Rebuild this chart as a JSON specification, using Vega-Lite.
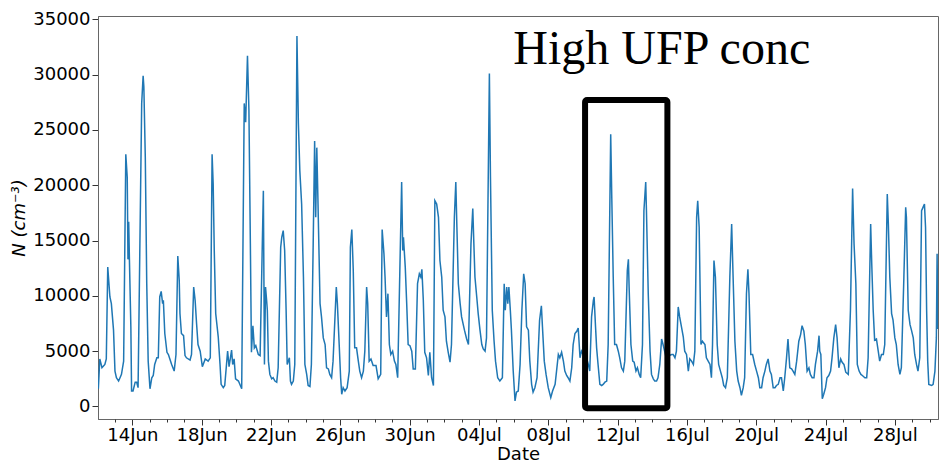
{
  "$schema": "https://vega.github.io/schema/vega-lite/v6.json",
  "width": 840,
  "height": 403,
  "autosize": {"type": "none"},
  "padding": {"left": 98, "top": 16, "right": 1, "bottom": 45},
  "config": {
    "font": "DejaVu Sans",
    "view": {"stroke": "#666", "strokeWidth": 1},
    "axis": {"grid": false, "domainColor": "#666", "tickColor": "#333", "labelColor": "#000", "titleColor": "#000", "labelFontSize": 18, "titleFontSize": 18, "titleFontWeight": "normal", "labelFont": "DejaVu Sans", "titleFont": "DejaVu Sans"}
  },
  "datasets": {
    "ufp": [
      {"t": "2019-06-12T01:00", "N": 1600}, {"t": "2019-06-12T03:00", "N": 4300}, {"t": "2019-06-12T06:00", "N": 3500}, {"t": "2019-06-12T10:00", "N": 3800}, {"t": "2019-06-12T12:00", "N": 4300}, {"t": "2019-06-12T14:00", "N": 12600}, {"t": "2019-06-12T17:00", "N": 9900}, {"t": "2019-06-12T19:00", "N": 9300}, {"t": "2019-06-12T22:00", "N": 6900},
      {"t": "2019-06-13T00:00", "N": 3200}, {"t": "2019-06-13T02:00", "N": 2600}, {"t": "2019-06-13T05:00", "N": 2300}, {"t": "2019-06-13T07:00", "N": 2600}, {"t": "2019-06-13T09:00", "N": 2900}, {"t": "2019-06-13T12:00", "N": 4100}, {"t": "2019-06-13T15:00", "N": 22800}, {"t": "2019-06-13T17:00", "N": 20700}, {"t": "2019-06-13T18:00", "N": 13300}, {"t": "2019-06-13T19:00", "N": 16700}, {"t": "2019-06-13T20:00", "N": 13300}, {"t": "2019-06-13T22:00", "N": 7200}, {"t": "2019-06-13T23:00", "N": 1400},
      {"t": "2019-06-14T01:00", "N": 1400}, {"t": "2019-06-14T04:00", "N": 2200}, {"t": "2019-06-14T06:00", "N": 2200}, {"t": "2019-06-14T08:00", "N": 1700}, {"t": "2019-06-14T13:00", "N": 27400}, {"t": "2019-06-14T15:00", "N": 29900}, {"t": "2019-06-14T16:00", "N": 28900}, {"t": "2019-06-14T18:00", "N": 22500}, {"t": "2019-06-14T20:00", "N": 11100}, {"t": "2019-06-14T22:00", "N": 4100},
      {"t": "2019-06-15T00:30", "N": 1600}, {"t": "2019-06-15T03:00", "N": 2600}, {"t": "2019-06-15T05:00", "N": 2800}, {"t": "2019-06-15T07:00", "N": 3800}, {"t": "2019-06-15T10:00", "N": 4400}, {"t": "2019-06-15T12:00", "N": 4400}, {"t": "2019-06-15T14:00", "N": 9900}, {"t": "2019-06-15T16:00", "N": 10400}, {"t": "2019-06-15T18:00", "N": 9300}, {"t": "2019-06-15T19:00", "N": 9600}, {"t": "2019-06-15T21:00", "N": 6600},
      {"t": "2019-06-16T00:00", "N": 4900}, {"t": "2019-06-16T02:00", "N": 4700}, {"t": "2019-06-16T04:00", "N": 4300}, {"t": "2019-06-16T06:30", "N": 3800}, {"t": "2019-06-16T10:00", "N": 3200}, {"t": "2019-06-16T12:30", "N": 4700}, {"t": "2019-06-16T15:00", "N": 13600}, {"t": "2019-06-16T17:00", "N": 11400}, {"t": "2019-06-16T18:00", "N": 8400}, {"t": "2019-06-16T20:00", "N": 6600}, {"t": "2019-06-16T23:00", "N": 6400},
      {"t": "2019-06-17T01:00", "N": 4600}, {"t": "2019-06-17T03:00", "N": 4400}, {"t": "2019-06-17T08:00", "N": 4200}, {"t": "2019-06-17T10:00", "N": 4700}, {"t": "2019-06-17T13:00", "N": 10800}, {"t": "2019-06-17T15:00", "N": 9600}, {"t": "2019-06-17T17:00", "N": 7500}, {"t": "2019-06-17T19:00", "N": 5600}, {"t": "2019-06-17T22:00", "N": 5000},
      {"t": "2019-06-18T01:00", "N": 3600}, {"t": "2019-06-18T05:00", "N": 4300}, {"t": "2019-06-18T09:00", "N": 4100}, {"t": "2019-06-18T12:00", "N": 4400}, {"t": "2019-06-18T14:30", "N": 22800}, {"t": "2019-06-18T16:00", "N": 20100}, {"t": "2019-06-18T17:30", "N": 14100}, {"t": "2019-06-18T19:30", "N": 8400}, {"t": "2019-06-18T21:00", "N": 7500}, {"t": "2019-06-18T23:00", "N": 6300},
      {"t": "2019-06-19T01:30", "N": 3800}, {"t": "2019-06-19T03:00", "N": 2000}, {"t": "2019-06-19T06:00", "N": 1700}, {"t": "2019-06-19T08:00", "N": 1900}, {"t": "2019-06-19T12:00", "N": 5000}, {"t": "2019-06-19T14:00", "N": 3600}, {"t": "2019-06-19T17:30", "N": 5100}, {"t": "2019-06-19T19:00", "N": 3800}, {"t": "2019-06-19T21:00", "N": 4300}, {"t": "2019-06-19T23:00", "N": 2500},
      {"t": "2019-06-20T03:00", "N": 2300}, {"t": "2019-06-20T07:30", "N": 1600}, {"t": "2019-06-20T11:00", "N": 27400}, {"t": "2019-06-20T13:00", "N": 25700}, {"t": "2019-06-20T15:30", "N": 31700}, {"t": "2019-06-20T17:30", "N": 26800}, {"t": "2019-06-20T19:30", "N": 14700}, {"t": "2019-06-20T21:00", "N": 4900}, {"t": "2019-06-20T23:00", "N": 7300},
      {"t": "2019-06-21T01:00", "N": 5300}, {"t": "2019-06-21T03:00", "N": 5500}, {"t": "2019-06-21T06:30", "N": 4700}, {"t": "2019-06-21T09:00", "N": 4600}, {"t": "2019-06-21T13:30", "N": 19500}, {"t": "2019-06-21T15:00", "N": 3800}, {"t": "2019-06-21T16:30", "N": 10800}, {"t": "2019-06-21T18:00", "N": 9600}, {"t": "2019-06-21T19:00", "N": 8700}, {"t": "2019-06-21T20:30", "N": 4100}, {"t": "2019-06-21T22:30", "N": 2900},
      {"t": "2019-06-22T01:00", "N": 2500}, {"t": "2019-06-22T03:00", "N": 2600}, {"t": "2019-06-22T05:30", "N": 2300}, {"t": "2019-06-22T08:00", "N": 2200}, {"t": "2019-06-22T10:00", "N": 3500}, {"t": "2019-06-22T13:30", "N": 14400}, {"t": "2019-06-22T15:00", "N": 15300}, {"t": "2019-06-22T17:00", "N": 15900}, {"t": "2019-06-22T19:00", "N": 14100}, {"t": "2019-06-22T21:00", "N": 8700}, {"t": "2019-06-22T22:30", "N": 3800},
      {"t": "2019-06-23T00:00", "N": 4100}, {"t": "2019-06-23T01:30", "N": 4400}, {"t": "2019-06-23T03:00", "N": 2300}, {"t": "2019-06-23T04:30", "N": 2000}, {"t": "2019-06-23T07:00", "N": 2300}, {"t": "2019-06-23T09:00", "N": 3800}, {"t": "2019-06-23T12:00", "N": 33500}, {"t": "2019-06-23T14:00", "N": 25600}, {"t": "2019-06-23T16:00", "N": 21300}, {"t": "2019-06-23T18:30", "N": 18300}, {"t": "2019-06-23T21:00", "N": 11700}, {"t": "2019-06-23T23:00", "N": 3800},
      {"t": "2019-06-24T01:30", "N": 2900}, {"t": "2019-06-24T03:30", "N": 1900}, {"t": "2019-06-24T06:00", "N": 1800}, {"t": "2019-06-24T08:00", "N": 3800}, {"t": "2019-06-24T10:30", "N": 14700}, {"t": "2019-06-24T12:30", "N": 24000}, {"t": "2019-06-24T14:00", "N": 17100}, {"t": "2019-06-24T15:30", "N": 23400}, {"t": "2019-06-24T17:00", "N": 18900}, {"t": "2019-06-24T20:00", "N": 9300}, {"t": "2019-06-24T22:00", "N": 8100},
      {"t": "2019-06-25T00:30", "N": 6200}, {"t": "2019-06-25T03:00", "N": 5600}, {"t": "2019-06-25T05:00", "N": 3500}, {"t": "2019-06-25T07:30", "N": 3400}, {"t": "2019-06-25T09:30", "N": 2900}, {"t": "2019-06-25T12:00", "N": 2600}, {"t": "2019-06-25T14:00", "N": 4100}, {"t": "2019-06-25T18:30", "N": 10800}, {"t": "2019-06-25T20:00", "N": 9300}, {"t": "2019-06-25T22:30", "N": 5600},
      {"t": "2019-06-26T00:30", "N": 2600}, {"t": "2019-06-26T02:00", "N": 1100}, {"t": "2019-06-26T04:00", "N": 1700}, {"t": "2019-06-26T06:30", "N": 1400}, {"t": "2019-06-26T09:30", "N": 1700}, {"t": "2019-06-26T12:30", "N": 3200}, {"t": "2019-06-26T14:00", "N": 14400}, {"t": "2019-06-26T16:00", "N": 16000}, {"t": "2019-06-26T18:00", "N": 12300}, {"t": "2019-06-26T20:00", "N": 5300}, {"t": "2019-06-26T22:30", "N": 5300},
      {"t": "2019-06-27T01:00", "N": 4100}, {"t": "2019-06-27T03:00", "N": 3200}, {"t": "2019-06-27T05:30", "N": 2600}, {"t": "2019-06-27T08:00", "N": 3200}, {"t": "2019-06-27T10:00", "N": 5000}, {"t": "2019-06-27T12:30", "N": 10800}, {"t": "2019-06-27T14:00", "N": 9300}, {"t": "2019-06-27T16:00", "N": 4100}, {"t": "2019-06-27T18:30", "N": 4300}, {"t": "2019-06-27T21:30", "N": 3700},
      {"t": "2019-06-28T01:30", "N": 3700}, {"t": "2019-06-28T04:30", "N": 2500}, {"t": "2019-06-28T08:00", "N": 2900}, {"t": "2019-06-28T10:00", "N": 16000}, {"t": "2019-06-28T12:30", "N": 13800}, {"t": "2019-06-28T14:00", "N": 11700}, {"t": "2019-06-28T16:00", "N": 8100}, {"t": "2019-06-28T18:00", "N": 10200}, {"t": "2019-06-28T20:00", "N": 5600}, {"t": "2019-06-28T22:00", "N": 4700},
      {"t": "2019-06-29T00:30", "N": 5000}, {"t": "2019-06-29T03:00", "N": 4100}, {"t": "2019-06-29T05:00", "N": 3800}, {"t": "2019-06-29T07:30", "N": 2600}, {"t": "2019-06-29T10:30", "N": 12300}, {"t": "2019-06-29T13:00", "N": 20300}, {"t": "2019-06-29T14:30", "N": 14100}, {"t": "2019-06-29T15:30", "N": 15300}, {"t": "2019-06-29T18:00", "N": 12600}, {"t": "2019-06-29T20:00", "N": 9300}, {"t": "2019-06-29T22:00", "N": 5600},
      {"t": "2019-06-30T00:30", "N": 5500}, {"t": "2019-06-30T03:00", "N": 5000}, {"t": "2019-06-30T05:00", "N": 3400}, {"t": "2019-06-30T08:00", "N": 3400}, {"t": "2019-06-30T11:00", "N": 11100}, {"t": "2019-06-30T13:30", "N": 12000}, {"t": "2019-06-30T15:30", "N": 11700}, {"t": "2019-06-30T17:00", "N": 12400}, {"t": "2019-06-30T19:00", "N": 9600}, {"t": "2019-06-30T21:00", "N": 4900}, {"t": "2019-06-30T23:30", "N": 4400},
      {"t": "2019-07-01T02:00", "N": 2800}, {"t": "2019-07-01T04:00", "N": 4900}, {"t": "2019-07-01T06:30", "N": 2600}, {"t": "2019-07-01T09:00", "N": 1900}, {"t": "2019-07-01T11:00", "N": 18600}, {"t": "2019-07-01T13:30", "N": 18300}, {"t": "2019-07-01T16:00", "N": 17100}, {"t": "2019-07-01T18:00", "N": 13200}, {"t": "2019-07-01T20:30", "N": 11700}, {"t": "2019-07-01T22:30", "N": 8700},
      {"t": "2019-07-02T01:00", "N": 8100}, {"t": "2019-07-02T03:00", "N": 5900}, {"t": "2019-07-02T05:30", "N": 4900}, {"t": "2019-07-02T08:00", "N": 4000}, {"t": "2019-07-02T10:00", "N": 5600}, {"t": "2019-07-02T14:00", "N": 17100}, {"t": "2019-07-02T16:00", "N": 20300}, {"t": "2019-07-02T17:30", "N": 16200}, {"t": "2019-07-02T19:30", "N": 11100}, {"t": "2019-07-02T22:00", "N": 9300},
      {"t": "2019-07-03T00:00", "N": 8100}, {"t": "2019-07-03T04:00", "N": 6900}, {"t": "2019-07-03T07:00", "N": 6100}, {"t": "2019-07-03T09:30", "N": 5600}, {"t": "2019-07-03T13:00", "N": 14700}, {"t": "2019-07-03T15:30", "N": 17900}, {"t": "2019-07-03T17:00", "N": 14700}, {"t": "2019-07-03T18:30", "N": 11700}, {"t": "2019-07-03T21:00", "N": 9900}, {"t": "2019-07-03T23:00", "N": 8400},
      {"t": "2019-07-04T01:30", "N": 6900}, {"t": "2019-07-04T04:00", "N": 5600}, {"t": "2019-07-04T06:00", "N": 5200}, {"t": "2019-07-04T08:30", "N": 5000}, {"t": "2019-07-04T10:30", "N": 6200}, {"t": "2019-07-04T14:30", "N": 30100}, {"t": "2019-07-04T16:00", "N": 20700}, {"t": "2019-07-04T18:30", "N": 8700}, {"t": "2019-07-04T21:00", "N": 5900}, {"t": "2019-07-04T23:00", "N": 4100},
      {"t": "2019-07-05T02:00", "N": 2600}, {"t": "2019-07-05T05:00", "N": 2300}, {"t": "2019-07-05T08:30", "N": 2600}, {"t": "2019-07-05T11:00", "N": 11100}, {"t": "2019-07-05T12:30", "N": 8700}, {"t": "2019-07-05T14:30", "N": 10800}, {"t": "2019-07-05T16:00", "N": 9300}, {"t": "2019-07-05T17:30", "N": 10800}, {"t": "2019-07-05T19:30", "N": 8700}, {"t": "2019-07-05T21:00", "N": 6900}, {"t": "2019-07-05T23:30", "N": 3200},
      {"t": "2019-07-06T02:00", "N": 500}, {"t": "2019-07-06T04:00", "N": 1300}, {"t": "2019-07-06T06:30", "N": 1400}, {"t": "2019-07-06T09:00", "N": 3800}, {"t": "2019-07-06T11:30", "N": 8700}, {"t": "2019-07-06T14:00", "N": 12000}, {"t": "2019-07-06T16:00", "N": 11100}, {"t": "2019-07-06T18:00", "N": 7200}, {"t": "2019-07-06T20:30", "N": 6900}, {"t": "2019-07-06T22:30", "N": 4100},
      {"t": "2019-07-07T01:00", "N": 2000}, {"t": "2019-07-07T03:00", "N": 1300}, {"t": "2019-07-07T05:30", "N": 1700}, {"t": "2019-07-07T08:30", "N": 2600}, {"t": "2019-07-07T12:00", "N": 7800}, {"t": "2019-07-07T14:30", "N": 9100}, {"t": "2019-07-07T16:00", "N": 7200}, {"t": "2019-07-07T18:30", "N": 4100}, {"t": "2019-07-07T21:00", "N": 2900},
      {"t": "2019-07-08T00:00", "N": 1700}, {"t": "2019-07-08T03:30", "N": 800}, {"t": "2019-07-08T06:00", "N": 1400}, {"t": "2019-07-08T09:30", "N": 2000}, {"t": "2019-07-08T11:30", "N": 3200}, {"t": "2019-07-08T14:00", "N": 4700}, {"t": "2019-07-08T16:00", "N": 4400}, {"t": "2019-07-08T18:30", "N": 4900}, {"t": "2019-07-08T21:00", "N": 4100}, {"t": "2019-07-08T23:00", "N": 3200},
      {"t": "2019-07-09T01:30", "N": 2800}, {"t": "2019-07-09T03:30", "N": 2600}, {"t": "2019-07-09T06:00", "N": 2300}, {"t": "2019-07-09T08:30", "N": 3500}, {"t": "2019-07-09T10:30", "N": 5600}, {"t": "2019-07-09T13:00", "N": 6600}, {"t": "2019-07-09T15:30", "N": 6800}, {"t": "2019-07-09T17:30", "N": 7100}, {"t": "2019-07-09T20:00", "N": 4400}, {"t": "2019-07-09T22:00", "N": 5000},
      {"t": "2019-07-10T00:30", "N": 4700}, {"t": "2019-07-10T03:00", "N": 4700}, {"t": "2019-07-10T05:00", "N": 4400}, {"t": "2019-07-10T07:30", "N": 3800}, {"t": "2019-07-10T09:30", "N": 3200}, {"t": "2019-07-10T12:00", "N": 8100}, {"t": "2019-07-10T14:30", "N": 9600}, {"t": "2019-07-10T15:30", "N": 9900}, {"t": "2019-07-10T17:30", "N": 7200}, {"t": "2019-07-10T19:00", "N": 5300}, {"t": "2019-07-10T21:00", "N": 3800}, {"t": "2019-07-10T23:30", "N": 2000},
      {"t": "2019-07-11T02:00", "N": 1900}, {"t": "2019-07-11T04:00", "N": 2000}, {"t": "2019-07-11T06:30", "N": 2200}, {"t": "2019-07-11T09:00", "N": 2300}, {"t": "2019-07-11T11:00", "N": 5600}, {"t": "2019-07-11T14:30", "N": 24600}, {"t": "2019-07-11T16:00", "N": 18900}, {"t": "2019-07-11T18:00", "N": 11700}, {"t": "2019-07-11T20:00", "N": 5600}, {"t": "2019-07-11T22:30", "N": 5600},
      {"t": "2019-07-12T01:00", "N": 5000}, {"t": "2019-07-12T03:00", "N": 4400}, {"t": "2019-07-12T05:30", "N": 3500}, {"t": "2019-07-12T08:00", "N": 3200}, {"t": "2019-07-12T10:00", "N": 4100}, {"t": "2019-07-12T13:30", "N": 12300}, {"t": "2019-07-12T15:00", "N": 13300}, {"t": "2019-07-12T16:00", "N": 10800}, {"t": "2019-07-12T18:30", "N": 5600}, {"t": "2019-07-12T21:00", "N": 4100}, {"t": "2019-07-12T23:00", "N": 4000},
      {"t": "2019-07-13T01:30", "N": 3200}, {"t": "2019-07-13T03:30", "N": 3500}, {"t": "2019-07-13T06:00", "N": 2900}, {"t": "2019-07-13T08:00", "N": 2600}, {"t": "2019-07-13T10:30", "N": 5600}, {"t": "2019-07-13T12:30", "N": 17700}, {"t": "2019-07-13T15:00", "N": 20300}, {"t": "2019-07-13T16:00", "N": 17700}, {"t": "2019-07-13T18:30", "N": 10200}, {"t": "2019-07-13T21:00", "N": 5000}, {"t": "2019-07-13T23:00", "N": 2900},
      {"t": "2019-07-14T01:30", "N": 2500}, {"t": "2019-07-14T03:30", "N": 2300}, {"t": "2019-07-14T06:00", "N": 2300}, {"t": "2019-07-14T08:00", "N": 2600}, {"t": "2019-07-14T10:30", "N": 3800}, {"t": "2019-07-14T13:00", "N": 6100}, {"t": "2019-07-14T15:00", "N": 5600}, {"t": "2019-07-14T19:00", "N": 4500},
      {"t": "2019-07-15T03:00", "N": 4700}, {"t": "2019-07-15T05:00", "N": 4700}, {"t": "2019-07-15T07:30", "N": 4400}, {"t": "2019-07-15T09:30", "N": 5000}, {"t": "2019-07-15T12:00", "N": 9000}, {"t": "2019-07-15T14:00", "N": 8100}, {"t": "2019-07-15T16:30", "N": 7200}, {"t": "2019-07-15T19:00", "N": 6300}, {"t": "2019-07-15T21:00", "N": 5000}, {"t": "2019-07-15T23:30", "N": 4700},
      {"t": "2019-07-16T02:00", "N": 3200}, {"t": "2019-07-16T04:00", "N": 4300}, {"t": "2019-07-16T06:30", "N": 4100}, {"t": "2019-07-16T09:00", "N": 3800}, {"t": "2019-07-16T11:00", "N": 5000}, {"t": "2019-07-16T13:30", "N": 17100}, {"t": "2019-07-16T15:00", "N": 18600}, {"t": "2019-07-16T17:00", "N": 16200}, {"t": "2019-07-16T19:30", "N": 5600}, {"t": "2019-07-16T21:30", "N": 5900},
      {"t": "2019-07-17T01:00", "N": 5600}, {"t": "2019-07-17T03:00", "N": 4400}, {"t": "2019-07-17T05:30", "N": 4100}, {"t": "2019-07-17T08:00", "N": 3800}, {"t": "2019-07-17T10:00", "N": 2600}, {"t": "2019-07-17T11:30", "N": 5600}, {"t": "2019-07-17T13:30", "N": 13200}, {"t": "2019-07-17T15:30", "N": 11700}, {"t": "2019-07-17T18:00", "N": 5600}, {"t": "2019-07-17T20:00", "N": 3800}, {"t": "2019-07-17T22:30", "N": 3200},
      {"t": "2019-07-18T01:00", "N": 2600}, {"t": "2019-07-18T03:00", "N": 1900}, {"t": "2019-07-18T05:30", "N": 1700}, {"t": "2019-07-18T08:00", "N": 2600}, {"t": "2019-07-18T11:30", "N": 11700}, {"t": "2019-07-18T14:00", "N": 16500}, {"t": "2019-07-18T16:00", "N": 11700}, {"t": "2019-07-18T18:30", "N": 5900}, {"t": "2019-07-18T21:00", "N": 3200}, {"t": "2019-07-18T23:00", "N": 2300},
      {"t": "2019-07-19T01:30", "N": 1700}, {"t": "2019-07-19T03:30", "N": 1000}, {"t": "2019-07-19T06:00", "N": 1700}, {"t": "2019-07-19T08:00", "N": 2600}, {"t": "2019-07-19T10:30", "N": 10200}, {"t": "2019-07-19T12:30", "N": 12400}, {"t": "2019-07-19T14:00", "N": 10200}, {"t": "2019-07-19T16:30", "N": 4700}, {"t": "2019-07-19T19:00", "N": 4700}, {"t": "2019-07-19T22:00", "N": 3800},
      {"t": "2019-07-20T00:30", "N": 3200}, {"t": "2019-07-20T03:00", "N": 2600}, {"t": "2019-07-20T05:00", "N": 1700}, {"t": "2019-07-20T07:30", "N": 1700}, {"t": "2019-07-20T09:30", "N": 2600}, {"t": "2019-07-20T12:00", "N": 3200}, {"t": "2019-07-20T14:00", "N": 3800}, {"t": "2019-07-20T16:30", "N": 4300}, {"t": "2019-07-20T19:00", "N": 3200}, {"t": "2019-07-20T21:00", "N": 2900}, {"t": "2019-07-20T23:30", "N": 1700},
      {"t": "2019-07-21T02:00", "N": 1700}, {"t": "2019-07-21T04:00", "N": 1900}, {"t": "2019-07-21T06:30", "N": 2000}, {"t": "2019-07-21T09:00", "N": 2600}, {"t": "2019-07-21T11:00", "N": 2600}, {"t": "2019-07-21T13:30", "N": 1400}, {"t": "2019-07-21T15:30", "N": 2600}, {"t": "2019-07-21T18:00", "N": 4400}, {"t": "2019-07-21T20:00", "N": 6100}, {"t": "2019-07-21T22:30", "N": 3500},
      {"t": "2019-07-22T01:00", "N": 3400}, {"t": "2019-07-22T03:00", "N": 3200}, {"t": "2019-07-22T05:30", "N": 2900}, {"t": "2019-07-22T08:00", "N": 4100}, {"t": "2019-07-22T11:00", "N": 5900}, {"t": "2019-07-22T13:30", "N": 6500}, {"t": "2019-07-22T15:30", "N": 7300}, {"t": "2019-07-22T18:00", "N": 6800}, {"t": "2019-07-22T20:00", "N": 5600}, {"t": "2019-07-22T22:30", "N": 3200},
      {"t": "2019-07-23T01:00", "N": 3500}, {"t": "2019-07-23T03:00", "N": 2900}, {"t": "2019-07-23T05:30", "N": 2600}, {"t": "2019-07-23T08:00", "N": 2600}, {"t": "2019-07-23T10:00", "N": 3800}, {"t": "2019-07-23T13:00", "N": 5000}, {"t": "2019-07-23T15:00", "N": 6400}, {"t": "2019-07-23T16:00", "N": 5000}, {"t": "2019-07-23T17:30", "N": 4700}, {"t": "2019-07-23T19:30", "N": 700}, {"t": "2019-07-23T21:30", "N": 1100},
      {"t": "2019-07-24T00:00", "N": 1700}, {"t": "2019-07-24T02:00", "N": 2600}, {"t": "2019-07-24T04:30", "N": 2800}, {"t": "2019-07-24T07:00", "N": 3200}, {"t": "2019-07-24T09:00", "N": 4400}, {"t": "2019-07-24T11:30", "N": 6200}, {"t": "2019-07-24T14:00", "N": 7400}, {"t": "2019-07-24T16:00", "N": 6200}, {"t": "2019-07-24T18:30", "N": 3500}, {"t": "2019-07-24T21:00", "N": 4300}, {"t": "2019-07-24T23:00", "N": 4000},
      {"t": "2019-07-25T01:30", "N": 3800}, {"t": "2019-07-25T04:00", "N": 3100}, {"t": "2019-07-25T07:30", "N": 2900}, {"t": "2019-07-25T10:30", "N": 8700}, {"t": "2019-07-25T13:30", "N": 19700}, {"t": "2019-07-25T15:30", "N": 14700}, {"t": "2019-07-25T18:00", "N": 11100}, {"t": "2019-07-25T20:00", "N": 3800}, {"t": "2019-07-25T22:30", "N": 3200},
      {"t": "2019-07-26T01:00", "N": 2900}, {"t": "2019-07-26T03:00", "N": 2800}, {"t": "2019-07-26T06:30", "N": 2600}, {"t": "2019-07-26T09:00", "N": 2600}, {"t": "2019-07-26T11:00", "N": 4400}, {"t": "2019-07-26T14:30", "N": 16500}, {"t": "2019-07-26T16:00", "N": 12900}, {"t": "2019-07-26T18:00", "N": 8700}, {"t": "2019-07-26T20:00", "N": 6000}, {"t": "2019-07-26T22:30", "N": 6100},
      {"t": "2019-07-27T01:00", "N": 5000}, {"t": "2019-07-27T03:00", "N": 4100}, {"t": "2019-07-27T05:30", "N": 4700}, {"t": "2019-07-27T08:00", "N": 4700}, {"t": "2019-07-27T10:00", "N": 5600}, {"t": "2019-07-27T13:30", "N": 19200}, {"t": "2019-07-27T15:00", "N": 16500}, {"t": "2019-07-27T17:00", "N": 11700}, {"t": "2019-07-27T19:30", "N": 8400}, {"t": "2019-07-27T21:30", "N": 7800},
      {"t": "2019-07-28T00:00", "N": 6200}, {"t": "2019-07-28T02:00", "N": 5600}, {"t": "2019-07-28T04:30", "N": 3800}, {"t": "2019-07-28T07:00", "N": 2900}, {"t": "2019-07-28T09:00", "N": 3500}, {"t": "2019-07-28T12:30", "N": 11700}, {"t": "2019-07-28T15:00", "N": 18000}, {"t": "2019-07-28T16:00", "N": 17100}, {"t": "2019-07-28T18:30", "N": 8700}, {"t": "2019-07-28T21:00", "N": 7400}, {"t": "2019-07-28T23:00", "N": 6900},
      {"t": "2019-07-29T01:30", "N": 6200}, {"t": "2019-07-29T03:30", "N": 4700}, {"t": "2019-07-29T06:00", "N": 3800}, {"t": "2019-07-29T08:00", "N": 3200}, {"t": "2019-07-29T10:30", "N": 4400}, {"t": "2019-07-29T13:00", "N": 17700}, {"t": "2019-07-29T15:00", "N": 18000}, {"t": "2019-07-29T17:00", "N": 18300}, {"t": "2019-07-29T18:30", "N": 16200}, {"t": "2019-07-29T20:00", "N": 8700}, {"t": "2019-07-29T21:30", "N": 4100}, {"t": "2019-07-29T23:00", "N": 2000},
      {"t": "2019-07-30T03:00", "N": 1900}, {"t": "2019-07-30T05:00", "N": 2000}, {"t": "2019-07-30T07:30", "N": 3200}, {"t": "2019-07-30T09:30", "N": 6200}, {"t": "2019-07-30T10:30", "N": 13800}, {"t": "2019-07-30T11:30", "N": 7000}
    ],
    "box": [{"t": "2019-07-10T03:00", "t2": "2019-07-14T21:00", "N": 27700, "N2": -150}],
    "label": [{"t": "2019-07-05T23:40", "N": 31000, "text": "High UFP conc"}]
  },
  "resolve": {"axis": {"x": "independent"}},
  "layer": [
    {
      "data": {"name": "ufp"},
      "mark": {"type": "line", "color": "#1f77b4", "strokeWidth": 1.5, "clip": true},
      "encoding": {
        "x": {
          "field": "t", "type": "temporal",
          "scale": {"domain": [{"year": 2019, "month": 6, "date": 12, "hours": 0, "minutes": 30}, {"year": 2019, "month": 7, "date": 30, "hours": 11, "minutes": 45}], "nice": false},
          "axis": {
            "orient": "bottom", "title": "Date", "format": "%d%b", "tickSize": 6, "labelPadding": 1, "titlePadding": 1, "labelFlush": false, "labelOverlap": false,
            "values": [
              {"year": 2019, "month": 6, "date": 14}, {"year": 2019, "month": 6, "date": 18}, {"year": 2019, "month": 6, "date": 22}, {"year": 2019, "month": 6, "date": 26}, {"year": 2019, "month": 6, "date": 30},
              {"year": 2019, "month": 7, "date": 4}, {"year": 2019, "month": 7, "date": 8}, {"year": 2019, "month": 7, "date": 12}, {"year": 2019, "month": 7, "date": 16}, {"year": 2019, "month": 7, "date": 20}, {"year": 2019, "month": 7, "date": 24}, {"year": 2019, "month": 7, "date": 28}
            ]
          }
        },
        "y": {
          "field": "N", "type": "quantitative",
          "scale": {"domain": [-1131, 35300], "nice": false, "zero": false},
          "axis": {"title": "N (cm⁻³)", "titleFontStyle": "italic", "format": "d", "tickSize": 6, "labelPadding": 2, "titlePadding": 4, "values": [0, 5000, 10000, 15000, 20000, 25000, 30000, 35000]}
        }
      }
    },
    {
      "data": {"name": "box"},
      "mark": {"type": "rect", "fillOpacity": 0, "stroke": "#000", "strokeWidth": 6, "cornerRadius": 2, "strokeJoin": "round"},
      "encoding": {
        "x": {"field": "t", "type": "temporal", "axis": {"orient": "bottom", "title": null, "labels": false, "domain": false, "tickSize": 3, "values": [
          {"year": 2019, "month": 6, "date": 13}, {"year": 2019, "month": 6, "date": 15}, {"year": 2019, "month": 6, "date": 16}, {"year": 2019, "month": 6, "date": 17}, {"year": 2019, "month": 6, "date": 19}, {"year": 2019, "month": 6, "date": 20}, {"year": 2019, "month": 6, "date": 21}, {"year": 2019, "month": 6, "date": 23}, {"year": 2019, "month": 6, "date": 24}, {"year": 2019, "month": 6, "date": 25}, {"year": 2019, "month": 6, "date": 27}, {"year": 2019, "month": 6, "date": 28}, {"year": 2019, "month": 6, "date": 29},
          {"year": 2019, "month": 7, "date": 1}, {"year": 2019, "month": 7, "date": 2}, {"year": 2019, "month": 7, "date": 3}, {"year": 2019, "month": 7, "date": 5}, {"year": 2019, "month": 7, "date": 6}, {"year": 2019, "month": 7, "date": 7}, {"year": 2019, "month": 7, "date": 9}, {"year": 2019, "month": 7, "date": 10}, {"year": 2019, "month": 7, "date": 11}, {"year": 2019, "month": 7, "date": 13}, {"year": 2019, "month": 7, "date": 14}, {"year": 2019, "month": 7, "date": 15}, {"year": 2019, "month": 7, "date": 17}, {"year": 2019, "month": 7, "date": 18}, {"year": 2019, "month": 7, "date": 19}, {"year": 2019, "month": 7, "date": 21}, {"year": 2019, "month": 7, "date": 22}, {"year": 2019, "month": 7, "date": 23}, {"year": 2019, "month": 7, "date": 25}, {"year": 2019, "month": 7, "date": 26}, {"year": 2019, "month": 7, "date": 27}, {"year": 2019, "month": 7, "date": 29}, {"year": 2019, "month": 7, "date": 30}
        ]}},
        "x2": {"field": "t2"},
        "y": {"field": "N", "type": "quantitative"},
        "y2": {"field": "N2"}
      }
    },
    {
      "data": {"name": "label"},
      "mark": {"type": "text", "font": "Liberation Serif", "fontSize": 48, "align": "left", "baseline": "alphabetic", "color": "#000"},
      "encoding": {
        "x": {"field": "t", "type": "temporal", "axis": null},
        "y": {"field": "N", "type": "quantitative"},
        "text": {"field": "text"}
      }
    }
  ]
}
